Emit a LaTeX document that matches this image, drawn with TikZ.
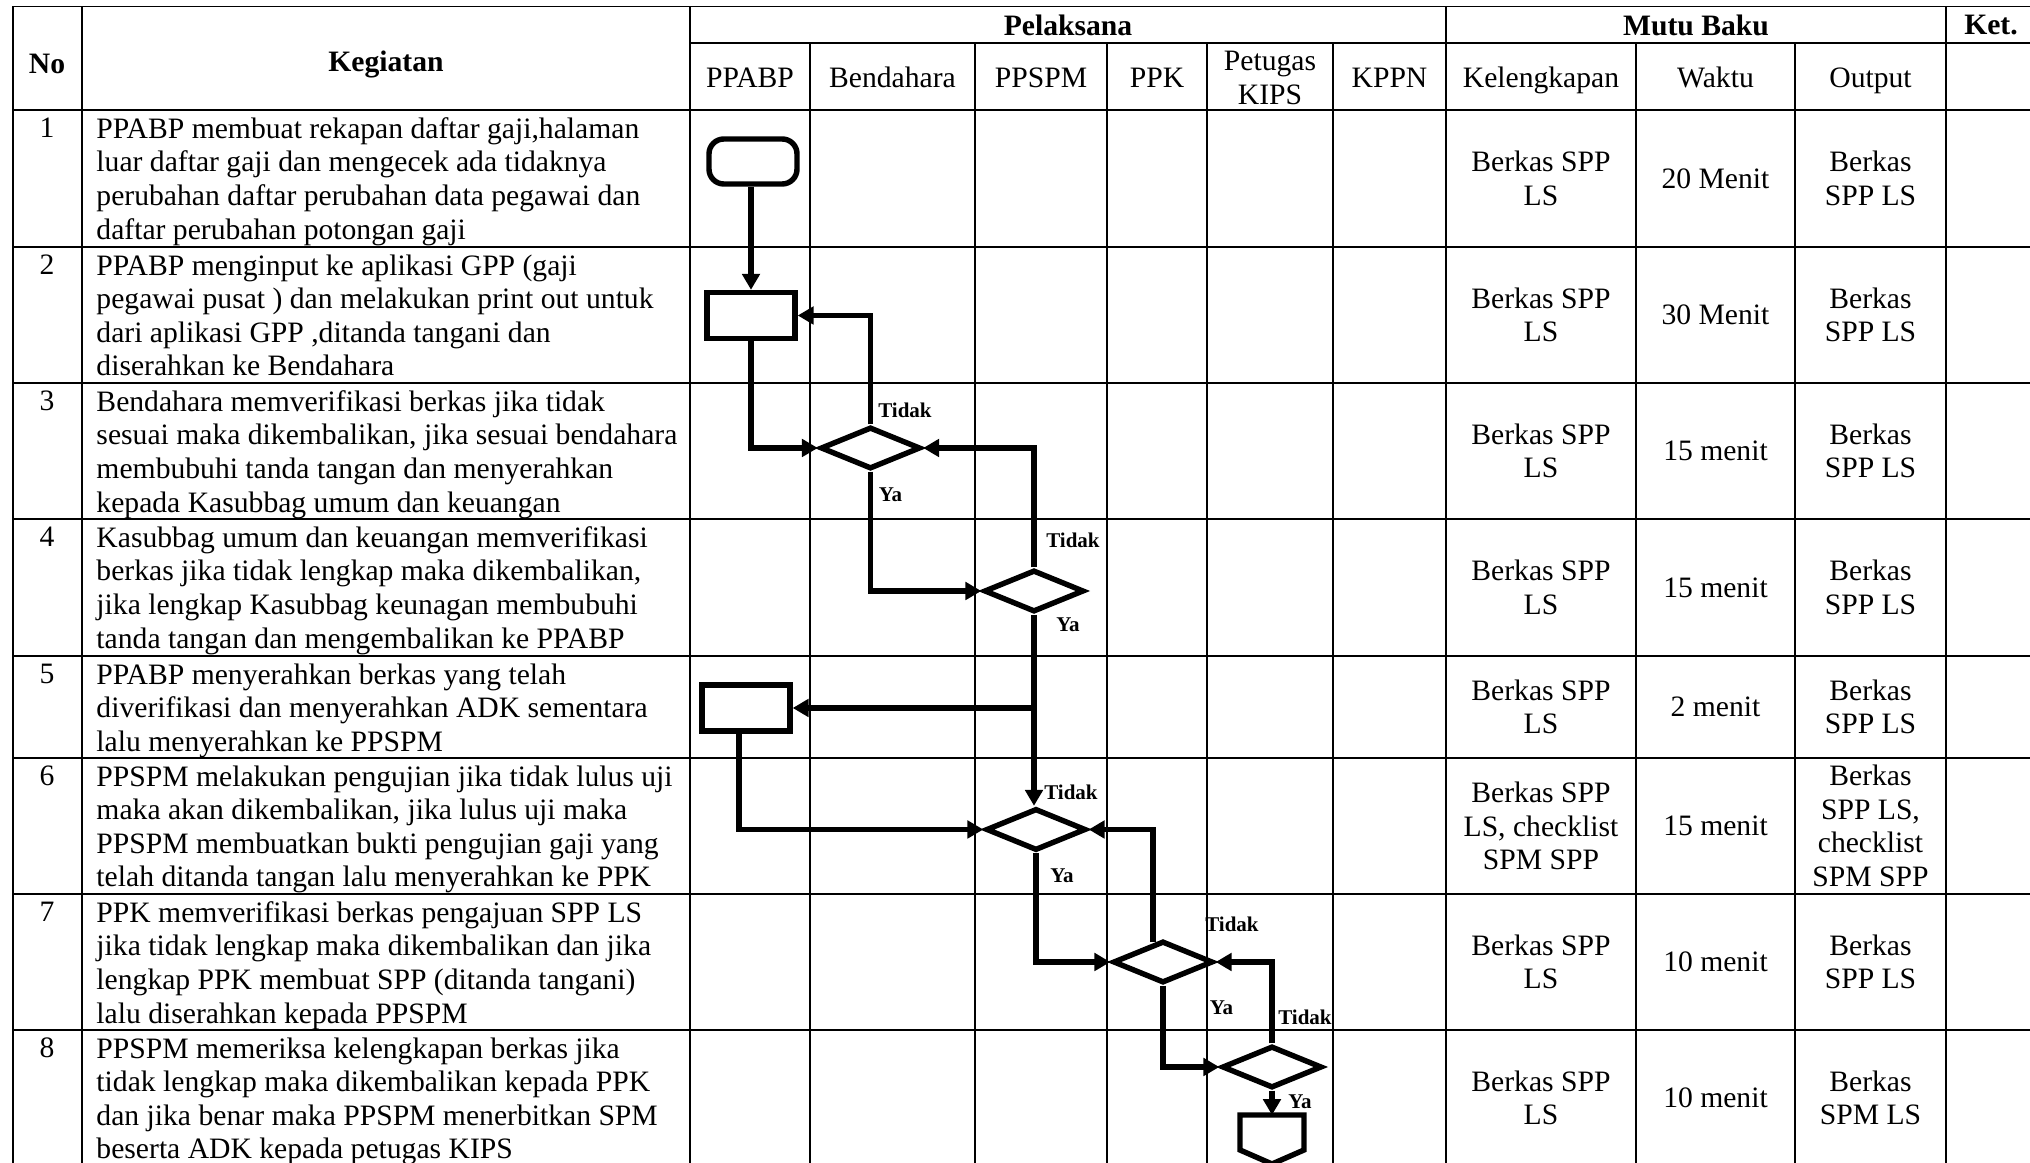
\documentclass[tikz,border=0pt]{standalone}
\usepackage{fontspec}
\setmainfont{Liberation Serif}
\usetikzlibrary{shapes.geometric,arrows.meta,calc}

\newcommand{\pxl}{0.405pt}

\begin{document}
\begin{tikzpicture}[x=0.405pt, y=-0.405pt,
  garis/.style={line width=0.5pt},
  alur/.style={line width=2.2pt},
  panah/.style={alur, -{Triangle[length=6.4pt,width=7pt]}},
  judul/.style={font=\fontsize{12}{13.6}\selectfont\bfseries, align=center, inner sep=0},
  isi/.style={font=\fontsize{12}{13.6}\selectfont, align=center, inner sep=0},
  keg/.style={font=\fontsize{12}{13.6}\selectfont, align=left, inner sep=0, anchor=north west},
  nomor/.style={font=\fontsize{12}{13.6}\selectfont, inner sep=0, anchor=base},
  mulai/.style={draw, alur, rounded corners=6pt, minimum width=88*\pxl, minimum height=45*\pxl, inner sep=0},
  proses/.style={draw, alur, minimum width=88*\pxl, minimum height=46*\pxl, inner sep=0},
  keputusan/.style={draw, alur, diamond, minimum width=100*\pxl, minimum height=42*\pxl, inner sep=0},
  ket/.style={font=\fontsize{8.5}{10}\selectfont\bfseries, inner sep=0}]
  \useasboundingbox (0,0) rectangle (2030,1163);
  \clip (0,0) rectangle (2030,1163);

  % Garis tabel
  \draw[garis] (13,6.5) -- (2040,6.5);
  \draw[garis] (690,43) -- (2040,43);
  \foreach \y in {110,247,383,519,656,758,894,1030}
    \draw[garis] (13,\y) -- (2040,\y);
  \foreach \x in {13,82,690,1446,1946}
    \draw[garis] (\x,6.5) -- (\x,1170);
  \foreach \x in {810,975,1107,1207,1333,1636,1795}
    \draw[garis] (\x,43) -- (\x,1170);

  % Kepala tabel
  \node[judul] (hNo) at (47,64) {No};
  \node[judul] (hKeg) at (386,64) {Kegiatan};
  \node[judul] (hPel) at (1068,25) {Pelaksana};
  \node[judul] (hMutu) at (1696,25) {Mutu Baku};
  \node[judul] (hKet) at (1991,25) {Ket.};
  \foreach \x/\t [count=\i] in {750/PPABP, 892.5/Bendahara, 1041/PPSPM, 1157/PPK,
      1389.5/KPPN, 1541/Kelengkapan, 1715.5/Waktu, 1870.5/Output}
    \node[isi, anchor=base] (sub\i) at (\x,88) {\t};
  \node[isi] (subKips) at (1270,78) {Petugas\\KIPS};

  % Nomor
  \foreach \y [count=\i] in {138,275,411,547,684,786,922,1058}
    \node[nomor] (no\i) at (47,\y) {\i};

  % Kegiatan
  \node[keg] (k1) at (96,117) {PPABP membuat rekapan daftar gaji,halaman\\
    luar daftar gaji dan mengecek ada tidaknya\\
    perubahan daftar perubahan data pegawai dan\\
    daftar perubahan potongan gaji};
  \node[keg] (k2) at (96,254) {PPABP menginput ke aplikasi GPP (gaji\\
    pegawai pusat ) dan melakukan print out untuk\\
    dari aplikasi GPP ,ditanda tangani dan\\
    diserahkan ke Bendahara};
  \node[keg] (k3) at (96,390) {Bendahara memverifikasi berkas jika tidak\\
    sesuai maka dikembalikan, jika sesuai bendahara\\
    membubuhi tanda tangan dan menyerahkan\\
    kepada Kasubbag umum dan keuangan};
  \node[keg] (k4) at (96,526) {Kasubbag umum dan keuangan memverifikasi\\
    berkas jika tidak lengkap maka dikembalikan,\\
    jika lengkap Kasubbag keunagan membubuhi\\
    tanda tangan dan mengembalikan ke PPABP};
  \node[keg] (k5) at (96,663) {PPABP menyerahkan berkas yang telah\\
    diverifikasi dan menyerahkan ADK sementara\\
    lalu menyerahkan ke PPSPM};
  \node[keg] (k6) at (96,765) {PPSPM melakukan pengujian jika tidak lulus uji\\
    maka akan dikembalikan, jika lulus uji maka\\
    PPSPM membuatkan bukti pengujian gaji yang\\
    telah ditanda tangan lalu menyerahkan ke PPK};
  \node[keg] (k7) at (96,901) {PPK memverifikasi berkas pengajuan SPP LS\\
    jika tidak lengkap maka dikembalikan dan jika\\
    lengkap PPK membuat SPP (ditanda tangani)\\
    lalu diserahkan kepada PPSPM};
  \node[keg] (k8) at (96,1037) {PPSPM memeriksa kelengkapan berkas jika\\
    tidak lengkap maka dikembalikan kepada PPK\\
    dan jika benar maka PPSPM menerbitkan SPM\\
    beserta ADK kepada petugas KIPS};

  % Mutu baku
  \foreach \y/\a/\b/\c [count=\i] in {
      178.5/{Berkas SPP\\LS}/{20 Menit}/{Berkas\\SPP LS},
      315/{Berkas SPP\\LS}/{30 Menit}/{Berkas\\SPP LS},
      451/{Berkas SPP\\LS}/{15 menit}/{Berkas\\SPP LS},
      587.5/{Berkas SPP\\LS}/{15 menit}/{Berkas\\SPP LS},
      707/{Berkas SPP\\LS}/{2 menit}/{Berkas\\SPP LS},
      826/{Berkas SPP\\LS, checklist\\SPM SPP}/{15 menit}/{Berkas\\SPP LS,\\checklist\\SPM SPP},
      962/{Berkas SPP\\LS}/{10 menit}/{Berkas\\SPP LS},
      1098/{Berkas SPP\\LS}/{10 menit}/{Berkas\\SPM LS}} {
    \node[isi] (kel\i) at (1541,\y) {\a};
    \node[isi] (wkt\i) at (1715.5,\y) {\b};
    \node[isi] (out\i) at (1870.5,\y) {\c};
  }

  % Bagan alir
  \node[mulai] (start) at (753,161.5) {};
  \node[proses] (p1) at (751,315.5) {};
  \node[keputusan] (d1) at (870.5,448) {};
  \node[keputusan] (d2) at (1034,591) {};
  \node[proses] (p2) at (746,708) {};
  \node[keputusan] (d3) at (1036,829.5) {};
  \node[keputusan] (d4) at (1163,962) {};
  \node[keputusan] (d5) at (1272,1067) {};
  \coordinate (selesai) at (1272,1115);
  \draw[alur] (selesai) -- ++(32,0) -- ++(0,35) -- (1272,1164) -- (1240,1150) -- (1240,1115) -- cycle;

  \draw[panah] (start.south -| p1.north) -- (p1.north);
  \draw[panah] (p1.south) |- (d1.west);
  \draw[panah] (d1.north) |- (p1.east);
  \draw[panah] (d1.south) |- (d2.west);
  \draw[panah] (d2.north) |- (d1.east);
  \draw[panah] (d2.south) -- (d2.south |- d3.north);
  \draw[panah] (d2.south |- p2.east) -- (p2.east);
  \draw[panah] ($(p2.south)+(-7,0)$) |- (d3.west);
  \draw[panah] (d3.south) |- (d4.west);
  \draw[panah] ($(d4.north)+(-10,4)$) |- (d3.east);
  \draw[panah] (d4.south) |- (d5.west);
  \draw[panah] (d5.north) |- (d4.east);
  \draw[panah] (d5.south) -- (selesai);

  % Label Tidak / Ya
  \node[ket] (t1) at (905,410) {Tidak};
  \node[ket] (y1) at (890.5,495) {Ya};
  \node[ket] (t2) at (1073,540) {Tidak};
  \node[ket] (y2) at (1068,625) {Ya};
  \node[ket] (t3) at (1071,792) {Tidak};
  \node[ket] (y3) at (1062,876) {Ya};
  \node[ket] (t4) at (1232,924) {Tidak};
  \node[ket] (y4) at (1221.5,1007.5) {Ya};
  \node[ket] (t5) at (1305,1017) {Tidak};
  \node[ket] (y5) at (1300,1102) {Ya};
\end{tikzpicture}
\end{document}
